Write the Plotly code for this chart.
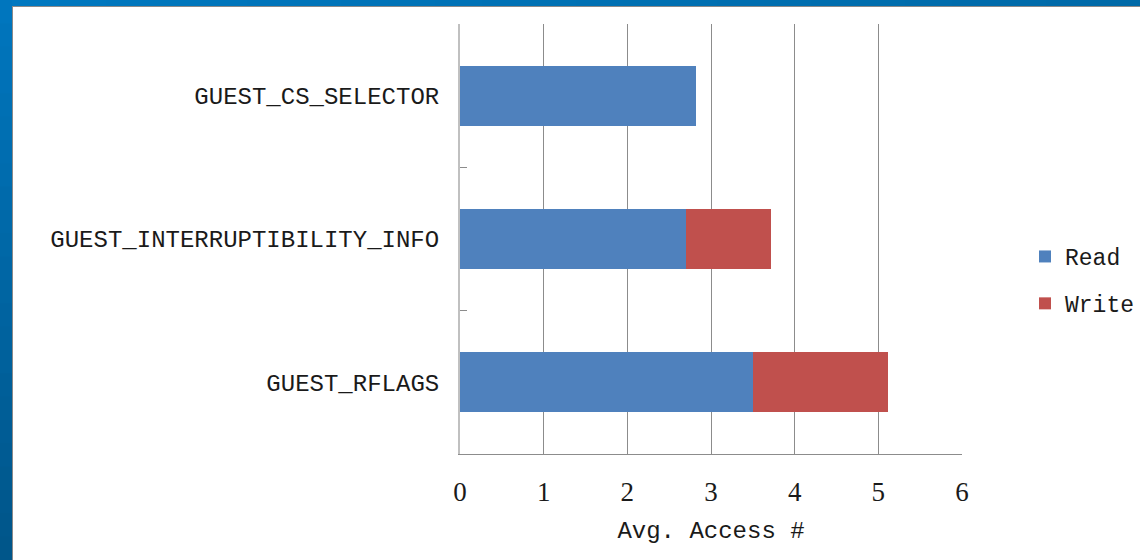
import plotly.graph_objects as go

# Field names, bottom to top
fields = ["GUEST_RFLAGS", "GUEST_INTERRUPTIBILITY_INFO", "GUEST_CS_SELECTOR"]
read_counts = [3.50, 2.70, 2.82]
write_counts = [1.62, 1.02, 0.0]
x_ticks = [0, 1, 2, 3, 4, 5, 6]

FONT = "Liberation Mono"
NUM_FONT = "Liberation Serif"
W, H = 1140, 560
L, R, T, B = 460, 178, 24, 106
PW, PH = W - L - R, H - T - B


def px_x(p):
    return (p - L) / PW


def px_y(p):
    return (H - B - p) / PH


fig = go.Figure()
fig.add_trace(go.Bar(
    y=fields, x=read_counts, orientation="h", name="Read",
    marker=dict(color="#4F81BD", line=dict(width=0)), legendgroup="r",
))
fig.add_trace(go.Bar(
    y=fields, x=write_counts, orientation="h", name="Write",
    marker=dict(color="#C0504D", line=dict(width=0)), legendgroup="w",
))

# slide frame: blue bands along the left and top edges
shapes = []
n = 24
for i in range(n):
    t = i / (n - 1)
    r, g, b = 0, int(118 - 32 * t), int(190 - 52 * t)
    y0 = H * i / n
    y1 = H * (i + 1) / n + 1
    shapes.append(dict(type="rect", xref="paper", yref="paper",
                       x0=px_x(0), x1=px_x(12), y0=px_y(y1), y1=px_y(y0),
                       fillcolor=f"rgb({r},{g},{b})", line=dict(width=0), layer="above"))
for i in range(n):
    t = i / (n - 1)
    r, g, b = 0, int(120 - 14 * t), int(192 - 24 * t)
    x0 = 12 + (W - 12) * i / n
    x1 = 12 + (W - 12) * (i + 1) / n + 1
    shapes.append(dict(type="rect", xref="paper", yref="paper",
                       x0=px_x(x0), x1=px_x(x1), y0=px_y(6), y1=px_y(0),
                       fillcolor=f"rgb({r},{g},{b})", line=dict(width=0), layer="above"))
shapes.append(dict(type="line", xref="paper", yref="paper",
                   x0=px_x(12.5), x1=px_x(12.5), y0=px_y(H), y1=px_y(6),
                   line=dict(color="#8a8a8a", width=1), layer="above"))
shapes.append(dict(type="line", xref="paper", yref="paper",
                   x0=px_x(12), x1=px_x(W), y0=px_y(6.5), y1=px_y(6.5),
                   line=dict(color="#8a8a8a", width=1), layer="above"))

fig.update_layout(
    width=W, height=H,
    margin=dict(l=L, r=R, t=T, b=B, pad=0, autoexpand=False),
    paper_bgcolor="white", plot_bgcolor="white",
    barmode="stack", bargap=0.58,
    font=dict(family=FONT, size=24, color="#1a1a1a"),
    shapes=shapes,
    legend=dict(
        x=px_x(1025), y=px_y(280), xanchor="left", yanchor="middle",
        traceorder="grouped", tracegroupgap=14,
        font=dict(family=FONT, size=23, color="#1a1a1a"),
        itemwidth=30, bgcolor="rgba(0,0,0,0)",
    ),
    xaxis=dict(
        range=[0, 6], tickvals=x_ticks, ticktext=[str(v) for v in x_ticks],
        showgrid=True, gridcolor="#8c8c8c", gridwidth=1,
        showline=True, linecolor="#8c8c8c", linewidth=1,
        zeroline=False, ticks="", ticklabelstandoff=14,
        tickfont=dict(family=NUM_FONT, size=27, color="#1a1a1a"),
        title=dict(text="Avg. Access #", standoff=14,
                   font=dict(family=FONT, size=24, color="#1a1a1a")),
        automargin=False, fixedrange=True,
    ),
    yaxis=dict(
        categoryorder="array", categoryarray=fields,
        showgrid=False, showline=True, linecolor="#c0c0c0", linewidth=2,
        ticks="inside", ticklen=7, tickcolor="#8c8c8c", tickwidth=1,
        tickson="boundaries", ticklabelstandoff=14,
        tickfont=dict(family=FONT, size=24, color="#1a1a1a"),
        automargin=False, fixedrange=True,
    ),
)

fig.write_html("out.html")
